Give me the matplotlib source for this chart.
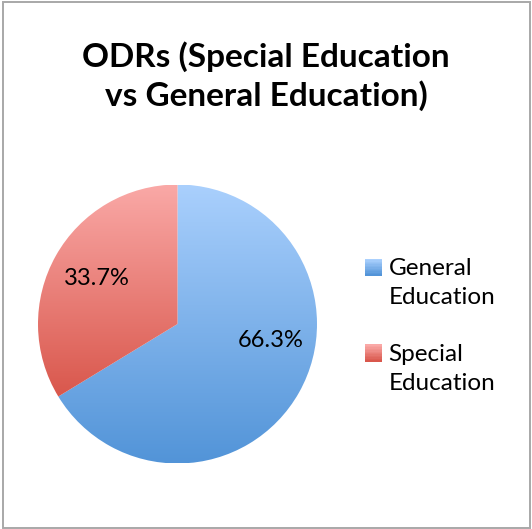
import matplotlib.pyplot as plt
import numpy as np
from matplotlib.colors import LinearSegmentedColormap, to_rgb
from matplotlib.legend_handler import HandlerBase
from matplotlib.patches import Rectangle

plt.rcParams['font.family'] = ['Lato', 'DejaVu Sans']

title = "ODRs (Special Education\nvs General Education)"
labels = ["General\nEducation", "Special\nEducation"]
shares = [66.3, 33.7]
# (top, bottom) colours of the gradient fill for each slice
fills = [("#aad0fd", "#5294d8"), ("#faa9a7", "#d9574c")]

LEG_SIZE = 17.5
LEG_SPACING = 1.5


def blend(top, bottom, t):
    a = np.array(to_rgb(top))
    b = np.array(to_rgb(bottom))
    return tuple(a + (b - a) * t)


class GradientSquare(HandlerBase):
    def __init__(self, colors, **kw):
        super().__init__(**kw)
        self.colors = colors

    def create_artists(self, legend, orig_handle, xdescent, ydescent,
                       width, height, fontsize, trans):
        top, bottom = self.colors
        side = fontsize * 0.7
        x0 = -xdescent + (width - side) / 2
        # sit next to the first line of a two-line label
        y0 = -ydescent + (height - side) / 2 + 0.5 * LEG_SPACING * fontsize * 0.87
        n = 12
        out = []
        for i in range(n):
            r = Rectangle((x0, y0 + side * (n - 1 - i) / n), side, side / n + 0.05,
                          facecolor=blend(top, bottom, i / (n - 1)),
                          edgecolor='none', transform=trans)
            out.append(r)
        return out


W, H = 532, 529
fig = plt.figure(figsize=(W / 100, H / 100), dpi=100)

# outer frame
fig.patches.append(Rectangle((3 / W, 1 / H), 527 / W, 526 / H, transform=fig.transFigure,
                             fill=False, edgecolor="#a8a8a8", linewidth=1.4))

fig.text(266 / W, 1 - 76 / H, title, ha='center', va='center', fontsize=24,
         fontweight='bold', linespacing=1.32)

cx, cy, rad = 177.5, H - 324, 139.5
ax = fig.add_axes([(cx - rad) / W, (cy - rad) / H, 2 * rad / W, 2 * rad / H])
wedges, texts, autotexts = ax.pie(shares, startangle=90, counterclock=False,
                                  autopct='%1.1f%%', pctdistance=0.665,
                                  textprops=dict(fontsize=17, color='black'))
ax.set_xlim(-1, 1)
ax.set_ylim(-1, 1)
ax.set_aspect('equal')

for w, (top, bottom) in zip(wedges, fills):
    verts = w.get_path().vertices
    y0, y1 = verts[:, 1].min(), verts[:, 1].max()
    x0, x1 = verts[:, 0].min(), verts[:, 0].max()
    cmap = LinearSegmentedColormap.from_list('g', [top, bottom])
    grad = np.linspace(0, 1, 256).reshape(-1, 1)
    im = ax.imshow(grad, cmap=cmap, aspect='auto', extent=(x0, x1, y0, y1),
                   origin='upper', interpolation='bilinear', zorder=1)
    im.set_clip_path(w)
    w.set_facecolor('none')
    w.set_edgecolor('none')
    w.set_zorder(2)

for t in autotexts:
    t.set_zorder(5)
# nudge the larger slice's label toward the right edge
autotexts[0].set_position((0.665, -0.115))

handles = [Rectangle((0, 0), 1, 1) for _ in labels]
fig.legend(handles, labels, loc='center left', bbox_to_anchor=(341 / W, 1 - 326 / H),
           frameon=False, fontsize=LEG_SIZE, handlelength=0.85, handletextpad=0.2,
           labelspacing=1.45,
           handler_map={h: GradientSquare(c) for h, c in zip(handles, fills)})
for t in fig.legends[0].get_texts():
    t.set_linespacing(LEG_SPACING)

fig.savefig('out.png', dpi=100)
